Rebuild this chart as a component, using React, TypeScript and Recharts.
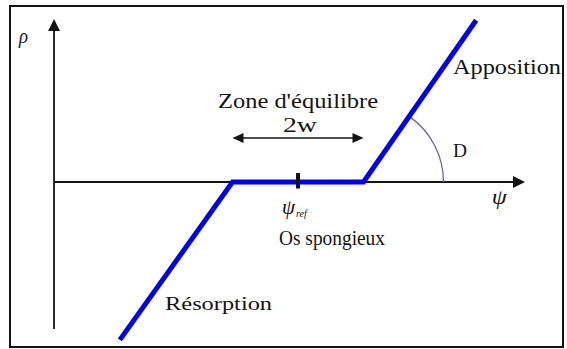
import React from "react";
import { LineChart, Line, XAxis, YAxis, ReferenceLine, ReferenceDot } from "recharts";

// stimulus (psi) vs. remodelling rate (rho), piecewise linear law
const psiValues = [-2.72, -1, 1, 2.72];
const rhoValues = [-2.41, 0, 0, 2.47];

const xDomain: [number, number] = [-4.55, 4.107];
const yDomain: [number, number] = [-2.55, 2.779];

const SERIF = "Liberation Serif";
const INK = "#141414";

const data = psiValues.map((psi, i) => ({ psi, rho: rhoValues[i] }));

type Seg = { x1?: number; y1?: number; x2?: number; y2?: number };

function arrowHead(x: number, y: number, ux: number, uy: number, len: number, half: number) {
  const bx = x - ux * len;
  const by = y - uy * len;
  const pts = [
    [x, y],
    [bx - uy * half, by + ux * half],
    [bx + uy * half, by - ux * half],
  ];
  return <polygon points={pts.map((p) => p.join(",")).join(" ")} fill={INK} />;
}

function AxisArrow(props: Seg) {
  const { x1 = 0, y1 = 0, x2 = 0, y2 = 0 } = props;
  const d = Math.hypot(x2 - x1, y2 - y1) || 1;
  const ux = (x2 - x1) / d;
  const uy = (y2 - y1) / d;
  return (
    <g>
      <line x1={x1} y1={y1} x2={x2 - ux * 10} y2={y2 - uy * 10} stroke={INK} strokeWidth={1.8} />
      {arrowHead(x2, y2, ux, uy, 12, 6)}
    </g>
  );
}

function DoubleArrow(props: Seg) {
  const { x1 = 0, y1 = 0, x2 = 0, y2 = 0 } = props;
  const d = Math.hypot(x2 - x1, y2 - y1) || 1;
  const ux = (x2 - x1) / d;
  const uy = (y2 - y1) / d;
  return (
    <g>
      <line x1={x1 + ux * 8} y1={y1 + uy * 8} x2={x2 - ux * 8} y2={y2 - uy * 8} stroke={INK} strokeWidth={1.5} />
      {arrowHead(x2, y2, ux, uy, 11, 5)}
      {arrowHead(x1, y1, -ux, -uy, 11, 5)}
    </g>
  );
}

// angle mark between the psi axis and the apposition branch
function AngleArc(props: Seg) {
  const { x1 = 0, y1 = 0, x2 = 0, y2 = 0 } = props;
  const r = 80;
  const a = Math.atan2(y1 - y2, x2 - x1);
  const ex = x1 + r * Math.cos(a);
  const ey = y1 - r * Math.sin(a);
  return (
    <path
      d={`M ${x1 + r} ${y1} A ${r} ${r} 0 0 0 ${ex} ${ey}`}
      fill="none"
      stroke="#6a64a8"
      strokeWidth={1.3}
    />
  );
}

function textShape(value: string, size: number, width: number, anchor: "start" | "middle" = "start", italic = false) {
  return (p: { cx?: number; cy?: number }) => (
    <text
      x={p.cx}
      y={p.cy}
      textAnchor={anchor}
      style={{ fontFamily: SERIF, fontSize: size, fontStyle: italic ? "italic" : "normal" }}
      fill={INK}
      textLength={width}
      lengthAdjust="spacingAndGlyphs"
    >
      {value}
    </text>
  );
}

function PsiRef(p: { cx?: number; cy?: number }) {
  return (
    <text x={p.cx} y={p.cy} style={{ fontFamily: SERIF, fontStyle: "italic" }} fill={INK}>
      <tspan fontSize={21}>ψ</tspan>
      <tspan fontSize={10} dy={3} dx={1}>ref</tspan>
    </text>
  );
}

export default function App() {
  return (
    <div style={{ position: "absolute", left: 0, top: 0, width: 567, height: 349, background: "#fff" }}>
      <div
        style={{
          position: "absolute",
          left: 9,
          top: 5,
          width: 555,
          height: 343,
          border: `2px solid ${INK}`,
          boxSizing: "border-box",
        }}
      />
      <div style={{ position: "absolute", left: 0, top: 0 }}>
        <LineChart width={567} height={349} data={data} margin={{ top: 0, right: 0, bottom: 0, left: 0 }}>
          <XAxis dataKey="psi" type="number" domain={xDomain} allowDataOverflow hide />
          <YAxis type="number" domain={yDomain} allowDataOverflow hide />

          <ReferenceLine segment={[{ x: -3.725, y: -2.244 }, { x: -3.725, y: 2.489 }]} shape={AxisArrow} />
          <ReferenceLine segment={[{ x: -3.725, y: 0 }, { x: 3.466, y: 0 }]} shape={AxisArrow} />
          <ReferenceLine segment={[{ x: -1, y: 0.672 }, { x: 1, y: 0.672 }]} shape={DoubleArrow} />
          <ReferenceLine segment={[{ x: psiValues[2], y: rhoValues[2] }, { x: psiValues[3], y: rhoValues[3] }]} shape={AngleArc} />

          <Line
            type="linear"
            dataKey="rho"
            stroke="#0000f2"
            strokeWidth={5}
            dot={false}
            activeDot={false}
            strokeLinejoin="miter"
            strokeLinecap="butt"
            isAnimationActive={false}
          />

          <ReferenceLine segment={[{ x: 0, y: -0.1 }, { x: 0, y: 0.137 }]} stroke={INK} strokeWidth={4} />

          <ReferenceDot x={-4.26} y={2.12} r={0} shape={textShape("ρ", 22, 9, "start", true)} />
          <ReferenceDot x={2.96} y={-0.336} r={0} shape={textShape("ψ", 22, 15, "start", true)} />
          <ReferenceDot x={-0.244} y={-0.49} r={0} shape={PsiRef} />
          <ReferenceDot x={-0.29} y={-0.96} r={0} shape={textShape("Os spongieux", 20, 106)} />
          <ReferenceDot x={0} y={1.13} r={0} shape={textShape("Zone d'équilibre", 20, 160, "middle")} />
          <ReferenceDot x={0.03} y={0.763} r={0} shape={textShape("2w", 20, 34, "middle")} />
          <ReferenceDot x={2.366} y={1.649} r={0} shape={textShape("Apposition", 20, 108)} />
          <ReferenceDot x={2.366} y={0.382} r={0} shape={textShape("D", 18, 14)} />
          <ReferenceDot x={-2.03} y={-1.954} r={0} shape={textShape("Résorption", 19, 107)} />
        </LineChart>
      </div>
    </div>
  );
}
